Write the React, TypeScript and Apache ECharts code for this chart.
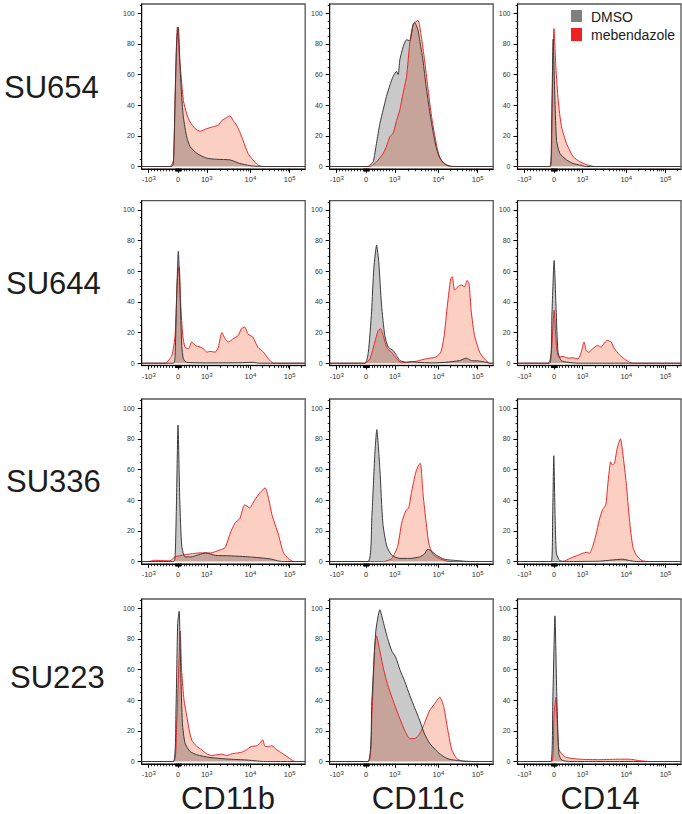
import React, { useEffect, useRef } from 'react';
import * as echarts from 'echarts';

const SAMPLES = ['SU654', 'SU644', 'SU336', 'SU223'];
const MARKERS = ['CD11b', 'CD11c', 'CD14'];
const GROUPS = ['DMSO', 'mebendazole'];

// fluorescence tick values (biexponential display)
const X_MAJOR_VALUES = [-1000, 0, 1000, 10000, 100000];
const X_MAJOR_LABELS = ['{b|-10}{s|3}', '{b|0}', '{b|10}{s|3}', '{b|10}{s|4}', '{b|10}{s|5}'];
const X_MINOR_VALUES = [
  -900, -800, -700, -600, -500, -400, -300, -200, -100,
  -90, -80, -70, -60, -50, -40, -30, -20, -10,
  10, 20, 30, 40, 50, 60, 70, 80, 90,
  100, 200, 300, 400, 500, 600, 700, 800, 900,
  2000, 3000, 4000, 5000, 6000, 7000, 8000, 9000,
  20000, 30000, 40000, 50000, 60000, 70000, 80000, 90000,
  200000,
];
const Y_MAJOR = [0, 20, 40, 60, 80, 100];
const Y_MINOR = [5, 10, 15, 25, 30, 35, 45, 50, 55, 65, 70, 75, 85, 90, 95, 105];

// display channel (0-100 across the axis) for a fluorescence value
function biex(v: number): number {
  if (v <= 0) return 22.3 + v * 0.018;
  if (v <= 1000) return 22.3 + v * 0.0175;
  if (v <= 10000) return 39.8 + 26.7 * Math.log10(v / 1000);
  return 66.5 + 24 * Math.log10(v / 10000);
}

// histogram traces: [display channel, % of max]
const SU654_CD11b_DMSO = [[0,0],[18.4,0],[19.4,2],[20.4,43],[21.4,82],[22.4,91],[23.5,64],[24.5,45],[25.5,32],[27.6,19],[29.6,13],[33.7,8.6],[39.8,5.4],[45.9,4.7],[54,4.3],[60,2],[66,0.6],[72,0],[100,0]];
const SU654_CD11b_MBZ = [[0,0],[17.3,0],[19.4,4],[20.4,43],[21.8,91],[23,73],[24.5,54],[25.5,43],[27.6,34],[29.6,29],[32.7,24.7],[35.7,23],[39.8,24.7],[43.9,26],[46.9,27],[49,30],[52,32],[54,33],[56,30],[58,27],[60,22.6],[62,17],[65,8.6],[68,4.3],[71,1],[74.5,0],[100,0]];
const SU654_CD11c_DMSO = [[0,0],[23.5,0],[24.6,1],[26.6,3],[28.6,15],[30.7,28],[32.7,37],[34.7,45.6],[36.8,53],[38.8,58.7],[40.9,62],[41.9,60],[42.9,69.6],[44.9,78],[47,82.7],[49,82],[51,92.5],[52,94],[54,89],[55,82.7],[57,69.6],[59,52],[61,37],[63,24],[65,13],[67,6.4],[70,2],[73,0.5],[76,0],[100,0]];
const SU654_CD11c_MBZ = [[0,0],[24.6,0],[28.6,3],[32.7,8.6],[34.7,13],[36.8,19.5],[38.8,21.7],[40.9,30],[42.9,37],[44.9,47.8],[47,58.7],[49,80.5],[51,92.5],[54,95.3],[56,85],[58,69.6],[60,52],[62,34.8],[64,21.7],[66,10.8],[68,4.2],[71,1],[74,0],[100,0]];
const SU654_CD14_DMSO = [[0,0],[19.8,0],[20.8,21],[21.8,83],[22.9,43],[23.9,17],[25.9,8.6],[30,4.3],[34,2],[38,1],[42,0],[100,0]];
const SU654_CD14_MBZ = [[0,0],[20.2,0],[21.2,43],[22.3,90],[23.5,64.5],[24.9,43],[26.9,26],[30,15],[34,6.5],[38,3.2],[42,1.3],[45,0.4],[47,0],[100,0]];

const SU644_CD11b_DMSO = [[0,0],[19.4,0],[20.4,5],[21.4,44],[22.4,73],[23.5,44],[24.5,11.6],[25.5,2.8],[27.5,0.6],[40,0.2],[60,0.3],[68,0.6],[72,0],[100,0]];
const SU644_CD11b_MBZ = [[0,0],[14.3,0],[18.4,5],[20.4,18],[21.8,55],[22.9,63],[23.9,38],[25.1,18],[26.5,10.5],[28.6,9.4],[30.6,13.8],[32.7,11.6],[35.7,10.5],[37.8,9.4],[39.8,7.2],[41.8,7.7],[44.9,7.2],[46.9,10.5],[49,20],[51,16],[53,13.8],[56,16],[59,18],[61,22.5],[63,23.6],[65,19],[68,17],[71,10.5],[74.5,7.2],[77.5,2.8],[80.6,0],[100,0]];
const SU644_CD11c_DMSO = [[0,0],[21.5,0],[23.6,7],[25.6,33.5],[27,62],[28.7,77],[30,66],[31.7,38],[33.7,18],[35.8,10.5],[38.8,8.3],[40.9,5],[43,1.7],[47,0.6],[50,1],[53,0.6],[63,0.2],[71,0.6],[79.5,1.7],[83.5,3.3],[86.6,1.7],[90.7,1.5],[95.7,0.6],[98,0],[100,0]];
const SU644_CD11c_MBZ = [[0,0],[21.5,0],[24.6,2.8],[27.6,13.8],[29.7,21.4],[31.1,22.5],[32.7,18],[35.2,9.4],[37.8,7.2],[40.9,2.8],[43.9,0.3],[47,0.6],[53,1.3],[57,2.4],[61.2,3.3],[65,4],[68,7.2],[70,18],[72,38],[74,55],[75,56.4],[76.4,47.7],[78.5,50],[80.5,51],[82.5,50],[84,54],[85.2,52],[86.6,33.5],[88.6,18],[91.7,7.2],[94.7,2.8],[97.8,0],[100,0]];
const SU644_CD14_DMSO = [[0,0],[19.7,0],[21.1,33.5],[22.4,67],[23.6,35.6],[24.8,7.2],[26.8,1.7],[30.9,0.6],[37,0],[100,0]];
const SU644_CD14_MBZ = [[0,0],[18.7,0],[20.7,7.2],[22.4,34.5],[23.8,11.6],[25.2,4],[27.8,4.4],[30.9,3.3],[34,3.5],[37,2.8],[39,7.2],[40.7,13.8],[42,8.3],[43.5,7.2],[46,9.4],[49,11.6],[51.2,10.5],[52.8,12.7],[54.9,14.9],[57.3,13.8],[59.3,9.4],[62.4,5.5],[65.4,2.8],[68.5,0.6],[70.5,0],[100,0]];

const SU336_CD11b_DMSO = [[0,0],[19.5,0],[20.5,5],[21.3,40],[22.2,89],[23.3,40],[24.5,10],[26.5,3],[30,3],[35,4.5],[39,5.6],[45,4],[54,3.7],[66,3],[78.6,1.7],[83,0.5],[86,0],[100,0]];
const SU336_CD11b_MBZ = [[0,0],[4,0],[8,0.8],[15,0.5],[17.3,0.5],[20.4,3],[26.5,4.4],[35.7,5.6],[42,5.6],[48,7.6],[51,9],[54,18],[57,25],[60,28],[63,37],[66,35],[69,40],[72.4,45],[75.5,48],[77.4,42],[79.8,30],[83.5,18],[86.6,6],[89.6,2],[92.7,0],[100,0]];
const SU336_CD11c_DMSO = [[0,0],[23.4,0],[25.8,30],[27.6,70],[28.8,86],[30.7,60],[32.5,25],[34.9,10],[38,4],[43,2],[49,2],[55,3],[58,5],[60,8],[62,7],[65.4,4],[70,1.5],[79,0.5],[85,0],[100,0]];
const SU336_CD11c_MBZ = [[0,0],[33,0],[38,2],[41.6,10],[44,25],[46.5,33],[48.3,35],[50,45],[52.6,58],[54.4,63],[55.5,64],[57,45],[58.7,28],[60.6,12],[63,5],[67,2],[73,0],[100,0]];
const SU336_CD14_DMSO = [[0,0],[20.7,0],[21.5,29],[22.2,69],[23,29],[23.8,5.4],[25.8,0.6],[30,0],[50,0.2],[58,1],[64.4,1.5],[68.5,0.6],[72.6,0],[100,0]];
const SU336_CD14_MBZ = [[0,0],[27.8,0],[32,2],[36,3.7],[40,5.4],[42,6],[44,5.4],[46,9.8],[48,17.4],[50,27],[52,33.7],[54,37],[55.3,51],[57,65],[58,63],[59.3,64],[61,74],[63,80],[64.4,70.7],[66.5,51],[68.5,27],[70.5,9.8],[72.6,4.3],[75.6,1],[78.7,0],[100,0]];

const SU223_CD11b_DMSO = [[0,0],[19.4,0],[21,36],[22,90],[22.9,98],[23.9,58],[24.9,25],[26.5,12],[29.6,6.5],[33.7,4.4],[41.8,2.6],[54,1.5],[64,1],[70,0.4],[74.5,0],[100,0]];
const SU223_CD11b_MBZ = [[0,0],[19.4,0],[21.4,25],[22.9,69],[23.5,85],[24.5,58],[25.9,40],[27.6,29.5],[29,20.7],[30.6,14],[33.7,9.8],[36.7,7.6],[39.8,5],[42.9,3.9],[46,4.4],[49,4.8],[52,3.9],[55,5],[58,5.5],[61,6],[64,7.6],[67,9.8],[70.4,10.3],[72.4,12],[74,14.2],[75.5,9.8],[77.6,9.8],[79.6,10.3],[82.7,7.6],[85.7,5.5],[88.8,3.3],[91.8,1],[93.9,0],[100,0]];
const SU223_CD11c_DMSO = [[0,0],[23.4,0],[25.8,40],[28.2,85],[30.7,99],[33,90],[35.5,80],[38,72],[40.4,68],[42.9,60],[46,52],[49,43],[52,35],[55,27],[58,18],[61,12],[64.4,8],[67.3,5],[70,3],[73,1.5],[79.5,0.5],[88.6,0],[100,0]];
const SU223_CD11c_MBZ = [[0,0],[23.4,0],[25.8,30],[27.5,75],[28.6,82],[30.7,72],[33,60],[35.5,50],[38,42],[40.4,35],[42.9,28],[46,20],[49,15],[52,15],[55,18],[58,25],[61,33],[64.4,38],[67.3,42],[69.7,36],[72,22],[74.6,8],[77.6,2],[82,0],[100,0]];
const SU223_CD14_DMSO = [[0,0],[20.4,0],[21.6,40],[22.9,95],[24.1,40],[25.3,5],[27,1],[32,0],[100,0]];
const SU223_CD14_MBZ = [[0,0],[21,0],[22.3,30],[23.5,42],[25.3,8],[29,3],[38,1.5],[50,1.2],[62.5,1.5],[68.6,1.5],[74.7,0.5],[80.8,0],[100,0]];

const PANELS = [
  [[SU654_CD11b_DMSO, SU654_CD11b_MBZ], [SU654_CD11c_DMSO, SU654_CD11c_MBZ], [SU654_CD14_DMSO, SU654_CD14_MBZ]],
  [[SU644_CD11b_DMSO, SU644_CD11b_MBZ], [SU644_CD11c_DMSO, SU644_CD11c_MBZ], [SU644_CD14_DMSO, SU644_CD14_MBZ]],
  [[SU336_CD11b_DMSO, SU336_CD11b_MBZ], [SU336_CD11c_DMSO, SU336_CD11c_MBZ], [SU336_CD14_DMSO, SU336_CD14_MBZ]],
  [[SU223_CD11b_DMSO, SU223_CD11b_MBZ], [SU223_CD11c_DMSO, SU223_CD11c_MBZ], [SU223_CD14_DMSO, SU223_CD14_MBZ]],
];

const COL_LEFT = [141.7, 329.7, 517.5];
const ROW_TOP = [4, 200.7, 399, 599];
const GRID_W = 163.5;
const GRID_H = 164.8;
const FONT = 'Liberation Sans, Arial, Helvetica, sans-serif';

const X_MAJOR_POS = X_MAJOR_VALUES.map(biex);
const X_MINOR_POS = X_MINOR_VALUES.map(biex);

function xLabel(v: number): string {
  for (let i = 0; i < X_MAJOR_POS.length; i++) {
    if (Math.abs(X_MAJOR_POS[i] - v) < 0.01) return X_MAJOR_LABELS[i];
  }
  return '';
}

function buildOption() {
  const grid: any[] = [];
  const xAxis: any[] = [];
  const yAxis: any[] = [];
  const series: any[] = [];
  let g = 0;
  for (let r = 0; r < SAMPLES.length; r++) {
    for (let c = 0; c < MARKERS.length; c++) {
      grid.push({
        left: COL_LEFT[c], top: ROW_TOP[r], width: GRID_W, height: GRID_H,
        show: true, borderColor: '#555', borderWidth: 1.3, backgroundColor: 'transparent',
      });
      xAxis.push({
        type: 'value', gridIndex: g, position: 'bottom', min: 0, max: 100,
        axisLine: { show: true, onZero: false, lineStyle: { color: '#000', width: 1 } },
        splitLine: { show: false },
        axisTick: { show: true, customValues: X_MAJOR_POS, length: 4, lineStyle: { color: '#000', width: 1 } },
        axisLabel: {
          show: true, customValues: X_MAJOR_POS, formatter: xLabel, margin: 6,
          fontSize: 7.5, color: '#333', fontFamily: FONT, lineHeight: 9,
          rich: {
            b: { fontSize: 7.5, color: '#333', fontFamily: FONT, verticalAlign: 'bottom', lineHeight: 9 },
            s: { fontSize: 6, color: '#333', fontFamily: FONT, verticalAlign: 'top', lineHeight: 9 },
          },
        },
      });
      xAxis.push({
        type: 'value', gridIndex: g, position: 'bottom', min: 0, max: 100,
        axisLine: { show: false, onZero: false },
        splitLine: { show: false },
        axisTick: { show: true, customValues: X_MINOR_POS, length: 2.5, lineStyle: { color: '#000', width: 0.8 } },
        axisLabel: { show: false },
      });
      yAxis.push({
        type: 'value', gridIndex: g, position: 'left', min: -1.5, max: 106,
        axisLine: { show: true, onZero: false, lineStyle: { color: '#000', width: 1 } },
        splitLine: { show: false },
        axisTick: { show: true, customValues: Y_MAJOR, length: 4, lineStyle: { color: '#000', width: 1 } },
        axisLabel: { show: true, customValues: Y_MAJOR, margin: 7, fontSize: 7, color: '#333', fontFamily: FONT },
      });
      yAxis.push({
        type: 'value', gridIndex: g, position: 'left', min: -1.5, max: 106,
        axisLine: { show: false, onZero: false },
        splitLine: { show: false },
        axisTick: { show: true, customValues: Y_MINOR, length: 2, lineStyle: { color: '#000', width: 0.8 } },
        axisLabel: { show: false },
      });
      const [dmso, mbz] = PANELS[r][c];
      series.push({
        type: 'line', name: GROUPS[1], xAxisIndex: 2 * g, yAxisIndex: 2 * g,
        data: mbz, symbol: 'none', smooth: 0.2, silent: true,
        lineStyle: { color: '#e8282b', width: 1 },
        itemStyle: { color: '#e8282b' },
        areaStyle: { color: '#fbd0c2', opacity: 1 },
      });
      series.push({
        type: 'line', name: GROUPS[0], xAxisIndex: 2 * g, yAxisIndex: 2 * g,
        data: dmso, symbol: 'none', smooth: 0.2, silent: true,
        lineStyle: { color: '#3a3a3a', width: 1 },
        itemStyle: { color: '#3a3a3a' },
        areaStyle: { color: 'rgba(0,0,0,0.21)', opacity: 1 },
      });
      g++;
    }
  }

  const ROW_LABEL_X = [4, 6, 6, 10];
  const ROW_LABEL_Y = [87, 283, 481, 677];
  const COL_LABEL_X = [228, 418, 600];
  const graphic: any[] = [];
  SAMPLES.forEach((s, i) => {
    graphic.push({
      type: 'text', x: ROW_LABEL_X[i], y: ROW_LABEL_Y[i], silent: true,
      style: { text: s, fontSize: 31, fontFamily: FONT, fill: '#1c1c1c', textVerticalAlign: 'middle', textAlign: 'left' },
    });
  });
  MARKERS.forEach((m, i) => {
    graphic.push({
      type: 'text', x: COL_LABEL_X[i], y: 798, silent: true,
      style: { text: m, fontSize: 31, lineHeight: 28, fontFamily: FONT, fill: '#1c1c1c', textVerticalAlign: 'middle', textAlign: 'center' },
    });
  });
  graphic.push({ type: 'rect', shape: { x: 571, y: 10, width: 11, height: 12 }, style: { fill: '#7f7f7f' }, z: 100 });
  graphic.push({ type: 'text', x: 591, y: 16.5, z: 100, style: { text: GROUPS[0], fontSize: 14, fontFamily: FONT, fill: '#1c1c1c', textVerticalAlign: 'middle' } });
  graphic.push({ type: 'rect', shape: { x: 571, y: 28, width: 11, height: 13 }, style: { fill: '#ee2222' }, z: 100 });
  graphic.push({ type: 'text', x: 591, y: 34.5, z: 100, style: { text: GROUPS[1], fontSize: 14, fontFamily: FONT, fill: '#1c1c1c', textVerticalAlign: 'middle' } });

  return { animation: false, backgroundColor: '#fff', grid, xAxis, yAxis, series, graphic };
}

export default function App() {
  const ref = useRef<HTMLDivElement>(null);
  useEffect(() => {
    if (!ref.current) return;
    const chart = echarts.init(ref.current, undefined, { renderer: 'svg' });
    chart.setOption(buildOption() as any);
    return () => chart.dispose();
  }, []);
  return <div ref={ref} style={{ position: 'absolute', left: 0, top: 0, width: 682, height: 814 }} />;
}
